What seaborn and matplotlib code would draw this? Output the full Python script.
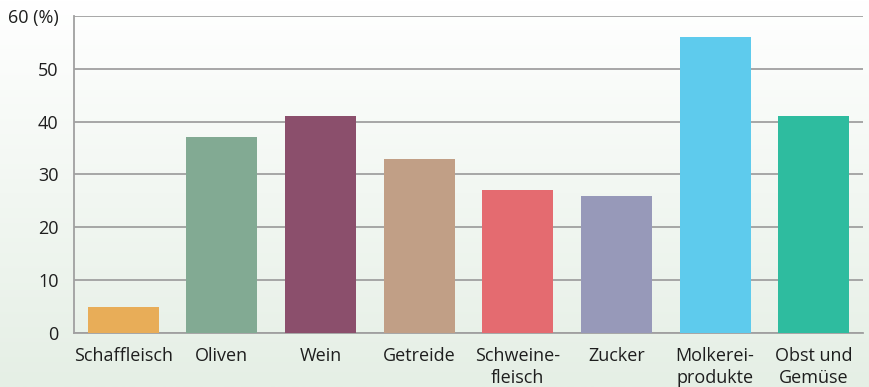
import numpy as np
import matplotlib
matplotlib.use("Agg")
import matplotlib.pyplot as plt
import seaborn as sns
import pandas as pd
from matplotlib.colors import LinearSegmentedColormap

categories = ["Schaffleisch", "Oliven", "Wein", "Getreide", "Schweine-\nfleisch",
              "Zucker", "Molkerei-\nprodukte", "Obst und\nGemüse"]
values = [5, 37, 41, 33, 27, 26, 56, 41]
colors = ["#e8ad58", "#82aa93", "#8b4f6c", "#c19f86", "#e46b70",
          "#9799b9", "#5ecbed", "#2ebc9f"]
yticks = [0, 10, 20, 30, 40, 50, 60]
ytick_labels = ["0", "10", "20", "30", "40", "50", "60 (%)"]

sns.set_theme(style="white")
plt.rcParams['font.family'] = ['Open Sans', 'DejaVu Sans']

fig = plt.figure(figsize=(8.7, 3.87), dpi=100)

# background gradient
bg = fig.add_axes([0, 0, 1, 1], zorder=0)
grad = np.linspace(0, 1, 256).reshape(-1, 1)
cmap = LinearSegmentedColormap.from_list("bg", ["#ffffff", "#e5efe5"])
bg.imshow(grad, aspect="auto", cmap=cmap, extent=[0, 1, 0, 1], origin="upper")
bg.axis("off")

ax = fig.add_axes([0.085, 0.1395, 0.907, 0.8195], zorder=1)
ax.patch.set_alpha(0)

df = pd.DataFrame({"cat": categories, "val": values})
sns.barplot(data=df, x="cat", y="val", hue="cat", palette=colors, legend=False,
            width=0.72, saturation=1, linewidth=0, edgecolor="none", ax=ax, zorder=3)

ax.set_xlim(-0.5, len(categories) - 0.5)
ax.set_ylim(0, 60)
ax.set_yticks(yticks)
ax.set_yticklabels(ytick_labels)
ax.yaxis.grid(True, color="#a0a0a0", linewidth=1.3, zorder=0)
ax.set_axisbelow(True)
for s in ["top", "right"]:
    ax.spines[s].set_visible(False)
for s in ["left", "bottom"]:
    ax.spines[s].set_color("#a0a0a0")
    ax.spines[s].set_linewidth(1.3)
ax.tick_params(axis="both", length=0, labelsize=13, colors="#1e1e1e")
ax.tick_params(axis="x", pad=10)
ax.tick_params(axis="y", pad=11)
ax.set_xlabel("")
ax.set_ylabel("")
for t in ax.get_xticklabels():
    t.set_linespacing(1.3)

fig.savefig("out.png", dpi=100)
